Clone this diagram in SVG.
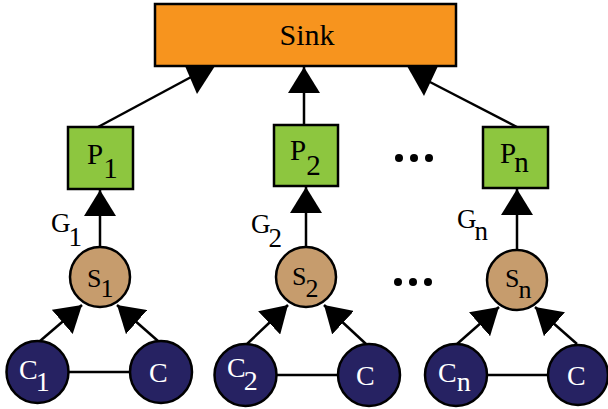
<svg xmlns="http://www.w3.org/2000/svg" width="608" height="409" viewBox="0 0 608 409">
<defs>
<marker id="ah" viewBox="0 0 26 32" refX="26" refY="16" markerWidth="26" markerHeight="32" markerUnits="userSpaceOnUse" orient="auto">
<path d="M0,0 L26,16 L0,32 z" fill="#000"/>
</marker>
</defs>
<g id="connectors" stroke="#000" stroke-width="2.5" fill="none">
<line x1="98" y1="127" x2="193" y2="76"/>
<polygon points="185,66 215,66 197,94" fill="#000" stroke="none"/>
<line x1="304" y1="126" x2="304" y2="67" marker-end="url(#ah)"/>
<line x1="517" y1="127" x2="428" y2="81"/>
<polygon points="407,66 438,66 424,96" fill="#000" stroke="none"/>
<line x1="100" y1="247" x2="100" y2="190" marker-end="url(#ah)"/>
<line x1="306" y1="246" x2="306" y2="187" marker-end="url(#ah)"/>
<line x1="517" y1="249" x2="517" y2="189" marker-end="url(#ah)"/>
<line x1="40" y1="341" x2="82" y2="305" marker-end="url(#ah)"/>
<line x1="158" y1="341" x2="117" y2="305" marker-end="url(#ah)"/>
<line x1="247" y1="344" x2="288" y2="305" marker-end="url(#ah)"/>
<line x1="366" y1="344" x2="324" y2="305" marker-end="url(#ah)"/>
<line x1="457" y1="344" x2="499" y2="307" marker-end="url(#ah)"/>
<line x1="577" y1="344" x2="535" y2="307" marker-end="url(#ah)"/>
<line x1="68" y1="372" x2="130" y2="372"/>
<line x1="276" y1="375" x2="338" y2="375"/>
<line x1="487" y1="375" x2="547" y2="375"/>
</g>
<g id="sink">
<rect x="155" y="4" width="301" height="62" fill="#F7941E" stroke="#000" stroke-width="2.5"/>
<text x="307" y="45" font-size="30" text-anchor="middle" fill="#000" font-family="Times New Roman, serif">Sink</text>
</g>
<g id="P1">
<rect x="68" y="127" width="65" height="62" fill="#8DC63F" stroke="#000" stroke-width="2.5"/>
<text x="87" y="164" font-size="29" fill="#000" font-family="Times New Roman, serif">P<tspan dy="14">1</tspan></text>
</g>
<g id="P2">
<rect x="274" y="125" width="64" height="61" fill="#8DC63F" stroke="#000" stroke-width="2.5"/>
<text x="290" y="160" font-size="29" fill="#000" font-family="Times New Roman, serif">P<tspan dy="15">2</tspan></text>
</g>
<g id="Pn">
<rect x="483" y="127" width="65" height="61" fill="#8DC63F" stroke="#000" stroke-width="2.5"/>
<text x="500" y="163" font-size="29" fill="#000" font-family="Times New Roman, serif">P<tspan dx="-2" dy="9">n</tspan></text>
</g>
<g id="G1">
<text x="51" y="232" font-size="27" fill="#000" font-family="Times New Roman, serif">G<tspan dx="-2" dy="14">1</tspan></text>
</g>
<g id="G2">
<text x="251" y="233" font-size="27" fill="#000" font-family="Times New Roman, serif">G<tspan dx="-2" dy="14">2</tspan></text>
</g>
<g id="Gn">
<text x="457" y="228" font-size="27" fill="#000" font-family="Times New Roman, serif">G<tspan dx="-2" dy="12">n</tspan></text>
</g>
<g id="S1">
<circle cx="100" cy="277" r="30" fill="#C69C6D" stroke="#000" stroke-width="2.5"/>
<text x="87" y="287" font-size="26" fill="#000" font-family="Times New Roman, serif">S<tspan dx="-1" dy="10">1</tspan></text>
</g>
<g id="S2">
<circle cx="306" cy="277" r="30" fill="#C69C6D" stroke="#000" stroke-width="2.5"/>
<text x="292" y="285" font-size="26" fill="#000" font-family="Times New Roman, serif">S<tspan dx="-1" dy="12">2</tspan></text>
</g>
<g id="Sn">
<circle cx="517" cy="280" r="30" fill="#C69C6D" stroke="#000" stroke-width="2.5"/>
<text x="505" y="287" font-size="26" fill="#000" font-family="Times New Roman, serif">S<tspan dx="-1" dy="11">n</tspan></text>
</g>
<g id="C1">
<circle cx="37.5" cy="372" r="31" fill="#262262" stroke="#000" stroke-width="2.5"/>
<text x="19" y="379" font-size="28" fill="#fff" font-family="Times New Roman, serif">C<tspan dx="-2" dy="12">1</tspan></text>
</g>
<g id="C1b">
<circle cx="161" cy="372" r="31" fill="#262262" stroke="#000" stroke-width="2.5"/>
<text x="149" y="382" font-size="28" fill="#fff" font-family="Times New Roman, serif">C</text>
</g>
<g id="C2">
<circle cx="245.5" cy="375" r="31" fill="#262262" stroke="#000" stroke-width="2.5"/>
<text x="227" y="377" font-size="28" fill="#fff" font-family="Times New Roman, serif">C<tspan dx="-2" dy="13">2</tspan></text>
</g>
<g id="C2b">
<circle cx="369" cy="375" r="31" fill="#262262" stroke="#000" stroke-width="2.5"/>
<text x="356" y="385" font-size="28" fill="#fff" font-family="Times New Roman, serif">C</text>
</g>
<g id="Cn">
<circle cx="456" cy="375" r="31" fill="#262262" stroke="#000" stroke-width="2.5"/>
<text x="438" y="382" font-size="28" fill="#fff" font-family="Times New Roman, serif">C<tspan dx="0" dy="9">n</tspan></text>
</g>
<g id="Cnb">
<circle cx="578" cy="375" r="30" fill="#262262" stroke="#000" stroke-width="2.5"/>
<text x="567" y="385" font-size="28" fill="#fff" font-family="Times New Roman, serif">C</text>
</g>
<g id="ellipsis" fill="#000">
<circle cx="399" cy="158" r="4"/>
<circle cx="414" cy="158" r="4"/>
<circle cx="429" cy="158" r="4"/>
<circle cx="398" cy="282" r="4"/>
<circle cx="413" cy="282" r="4"/>
<circle cx="428" cy="282" r="4"/>
</g>
</svg>
